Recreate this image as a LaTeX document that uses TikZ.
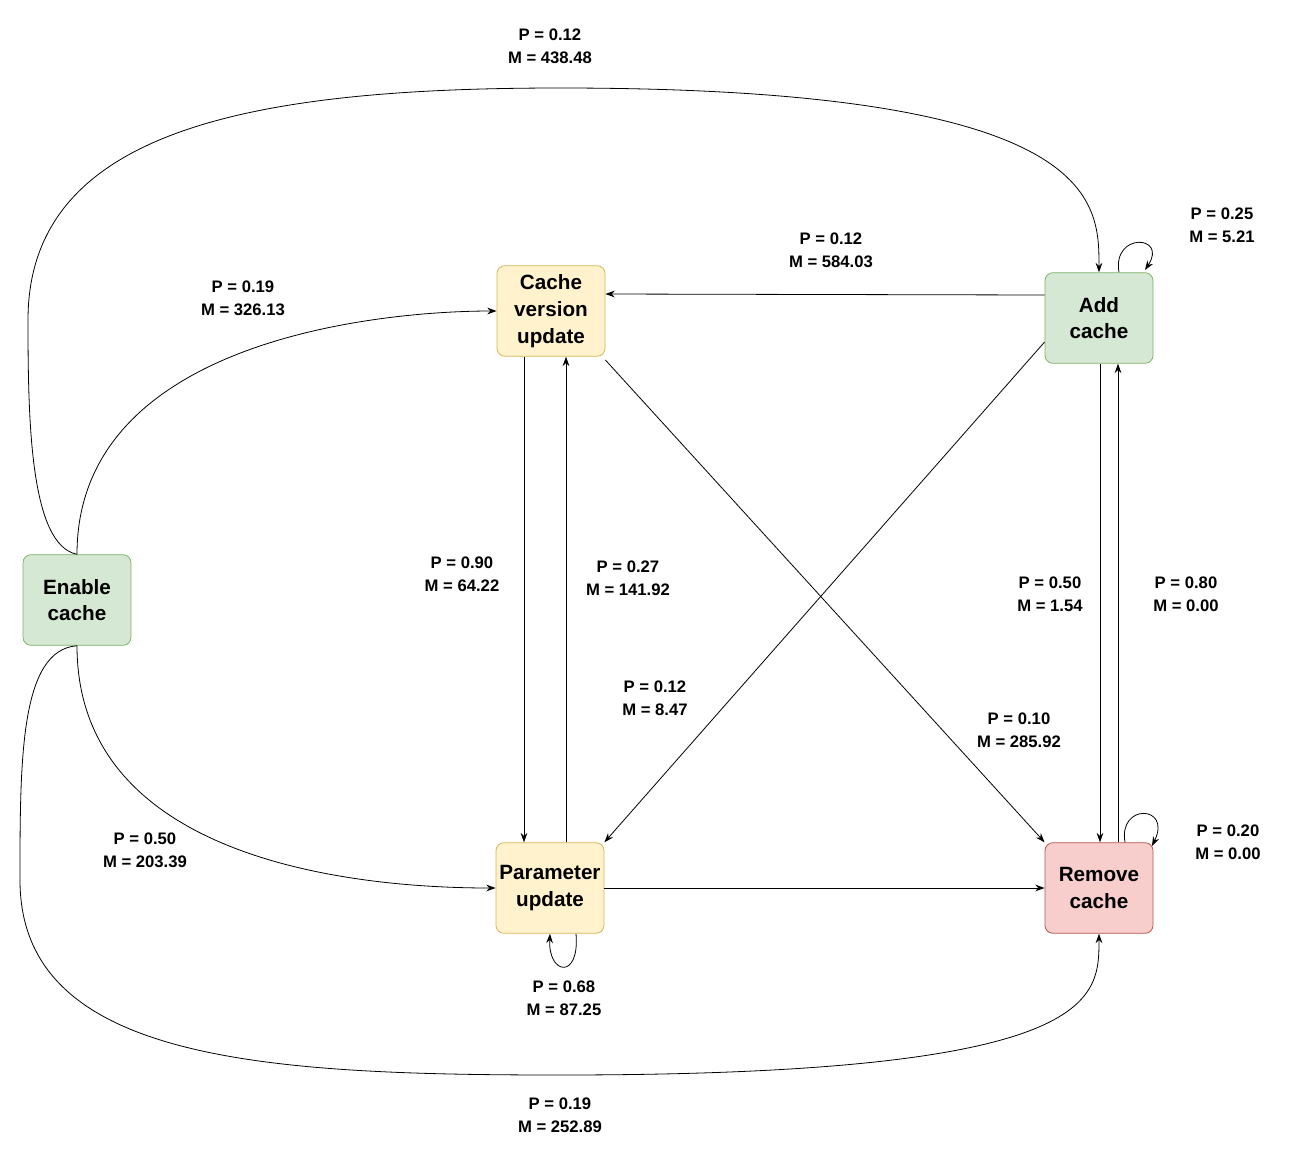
\documentclass[tikz,border=0pt]{standalone}
\usepackage{fontspec}
\setmainfont{Liberation Sans}
\usetikzlibrary{arrows.meta}
\definecolor{gf}{HTML}{D5E8D4}\definecolor{gd}{HTML}{82B366}
\definecolor{yf}{HTML}{FFF2CC}\definecolor{yd}{HTML}{D6B656}
\definecolor{rf}{HTML}{F8CECC}\definecolor{rd}{HTML}{B85450}
\begin{document}
\begin{tikzpicture}[x=0.75pt,y=-0.75pt,
 st/.style={draw,rounded corners=6pt,minimum width=81pt,minimum height=68pt,align=center,font=\bfseries\fontsize{15.5}{20}\selectfont,inner sep=0pt,line width=0.6pt},
 gst/.style={st,fill=gf,draw=gd}, yst/.style={st,fill=yf,draw=yd}, rst/.style={st,fill=rf,draw=rd},
 lb/.style={align=center,font=\bfseries\fontsize{12.5}{17.5}\selectfont},
 e/.style={-{Stealth[length=7pt,width=5pt]},line width=0.6pt}]
\useasboundingbox (0,0) rectangle (1304,1154);
\node[gst] (en) at (77,600) {Enable\\cache};
\node[yst] (cv) at (551,311) {Cache\\version\\update};
\node[gst] (ad) at (1099,318) {Add\\cache};
\node[yst] (pu) at (550,888) {Parameter\\update};
\node[rst] (rm) at (1099,888) {Remove\\cache};
% curves from enable
\draw[e] (en.north) .. controls (30,545) and (28,420) .. (28,320) .. controls (28,130) and (250,88) .. (560,88) .. controls (1099,88) and (1099,200) .. (ad.north);
\draw[e] (en.north) .. controls (77,340) and (380,311) .. (cv.west);
\draw[e] (en.south) .. controls (77,870) and (380,888) .. (pu.west);
\draw[e] (en.south) .. controls (20,650) and (20,760) .. (20,880) .. controls (20,1060) and (260,1075) .. (560,1075) .. controls (1099,1075) and (1099,1000) .. (rm.south);
% straight
\draw[e] (cv.south -| 524,0) -- (pu.north -| 524,0);
\draw[e] (pu.north -| 566,0) -- (cv.south -| 566,0);
\draw[e] (ad.west |- 0,295) -- (cv.east |- 0,294);
\draw[e] (ad.west |- 0,342) -- (pu.north east);
\draw[e] (cv.east |- 0,360) -- (rm.north west);
\draw[e] (ad.south -| 1100,0) -- (rm.north -| 1100,0);
\draw[e] (rm.north -| 1118,0) -- (ad.south -| 1118,0);
\draw[e] (pu.east) -- (rm.west);
% loops
\draw[e] (ad.north -| 1119,0) .. controls (1112,232) and (1168,235) .. (1145,270);
\draw[e] (rm.north -| 1125,0) .. controls (1118,803) and (1172,805) .. (1152,846);
\draw[e] (pu.south -| 576,0) .. controls (580,980) and (548,975) .. (pu.south);
% labels
\node[lb] at (550,46) {P = 0.12\\M = 438.48};
\node[lb] at (243,298) {P = 0.19\\M = 326.13};
\node[lb] at (831,250) {P = 0.12\\M = 584.03};
\node[lb] at (1222,225) {P = 0.25\\M = 5.21};
\node[lb] at (462,574) {P = 0.90\\M = 64.22};
\node[lb] at (628,578) {P = 0.27\\M = 141.92};
\node[lb] at (1050,594) {P = 0.50\\M = 1.54};
\node[lb] at (1186,594) {P = 0.80\\M = 0.00};
\node[lb] at (655,698) {P = 0.12\\M = 8.47};
\node[lb] at (1019,730) {P = 0.10\\M = 285.92};
\node[lb] at (145,850) {P = 0.50\\M = 203.39};
\node[lb] at (1228,842) {P = 0.20\\M = 0.00};
\node[lb] at (564,998) {P = 0.68\\M = 87.25};
\node[lb] at (560,1115) {P = 0.19\\M = 252.89};
\end{tikzpicture}
\end{document}
